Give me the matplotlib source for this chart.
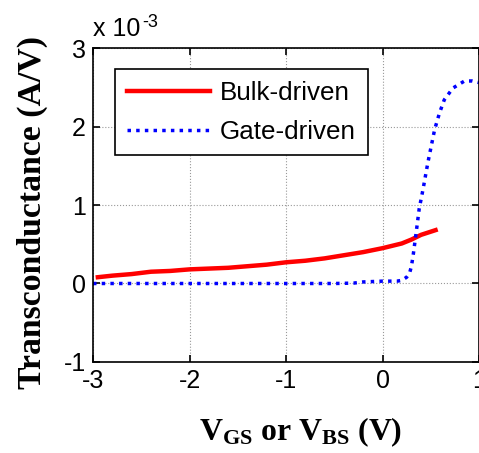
#!/usr/bin/env python3
import matplotlib
matplotlib.use("Agg")
import matplotlib.pyplot as plt

# ── data (transconductance in units of 1e-3 A/V) ──────────────────────────────
BULK_X = [-2.95, -2.8, -2.6, -2.4, -2.2, -2.0, -1.8, -1.6, -1.4, -1.2, -1.0,
          -0.8, -0.6, -0.4, -0.2, 0.0, 0.2, 0.3, 0.4, 0.55]
BULK_Y = [0.08, 0.10, 0.12, 0.15, 0.16, 0.18, 0.19, 0.20, 0.22, 0.24, 0.27,
          0.29, 0.32, 0.36, 0.40, 0.45, 0.51, 0.56, 0.62, 0.68]

GATE_X = [-3.0, -2.5, -2.0, -1.5, -1.0, -0.5, -0.3, -0.2, 0.0, 0.15, 0.2, 0.25,
          0.28, 0.3, 0.32, 0.35, 0.38, 0.42, 0.47, 0.54, 0.59, 0.64, 0.73, 0.85,
          0.93, 1.0]
GATE_Y = [0.0, 0.0, 0.0, 0.0, 0.0, 0.0, 0.005, 0.02, 0.03, 0.03, 0.04, 0.08,
          0.13, 0.22, 0.38, 0.66, 0.95, 1.2, 1.54, 1.96, 2.17, 2.34, 2.49, 2.58,
          2.58, 2.56]

X_TICKS = [-3, -2, -1, 0, 1]
Y_TICKS = [-1, 0, 1, 2, 3]
# ───────────────────────────────────────────────────────────────────────────────

plt.rcParams["axes.unicode_minus"] = False
plt.rcParams["mathtext.default"] = "regular"

SANS = "Liberation Sans"
SERIF = "Liberation Serif"


def main():
    fig = plt.figure(figsize=(4.79, 4.53), dpi=100)
    ax = fig.add_axes([0.1942, 0.2009, 0.8058, 0.6931])

    ax.plot(BULK_X, BULK_Y, color="red", lw=3.2, label="Bulk-driven")
    ax.plot(GATE_X, GATE_Y, color="blue", lw=2.5, linestyle=(0, (1.0, 1.5)),
            label="Gate-driven")

    ax.set_xlim(-3, 1)
    ax.set_ylim(-1, 3)
    ax.set_xticks(X_TICKS)
    ax.set_yticks(Y_TICKS)
    ax.set_xticklabels([str(t) for t in X_TICKS])
    ax.set_yticklabels([str(t) for t in Y_TICKS])
    ax.tick_params(direction="in", length=5, width=1.2, top=True, right=True,
                   labelsize=18, pad=5)
    for lab in ax.get_xticklabels() + ax.get_yticklabels():
        lab.set_family(SANS)
    ax.grid(True, color="#999999", linestyle=":", linewidth=0.8)
    for sp in ax.spines.values():
        sp.set_linewidth(1.2)

    # exponent label, MATLAB style
    ax.text(0.0, 1.038, "x 10", transform=ax.transAxes,
            fontsize=18, family=SANS, ha="left", va="baseline")
    ax.text(0.127, 1.067, "-3", transform=ax.transAxes,
            fontsize=13, family=SANS, ha="left", va="baseline")

    ax.set_ylabel("Transconductance (A/V)", family=SERIF, weight="bold",
                  fontsize=24.3, va="center")
    ax.yaxis.set_label_coords(-0.158, 0.475)
    ax.set_xlabel(r"V$_{GS}$ or V$_{BS}$ (V)", family=SERIF, weight="bold",
                  fontsize=22.9, va="center")
    ax.xaxis.set_label_coords(0.539, -0.223)

    leg = ax.legend(loc="upper left", bbox_to_anchor=(0.057, 0.933),
                    borderaxespad=0, prop={"family": SANS, "size": 18.7},
                    handlelength=3.2, handletextpad=0.4, labelspacing=0.58,
                    borderpad=0.45, fancybox=False, framealpha=1,
                    edgecolor="black")
    leg.get_frame().set_linewidth(1.2)

    fig.savefig("out.png", dpi=100)


if __name__ == "__main__":
    main()
